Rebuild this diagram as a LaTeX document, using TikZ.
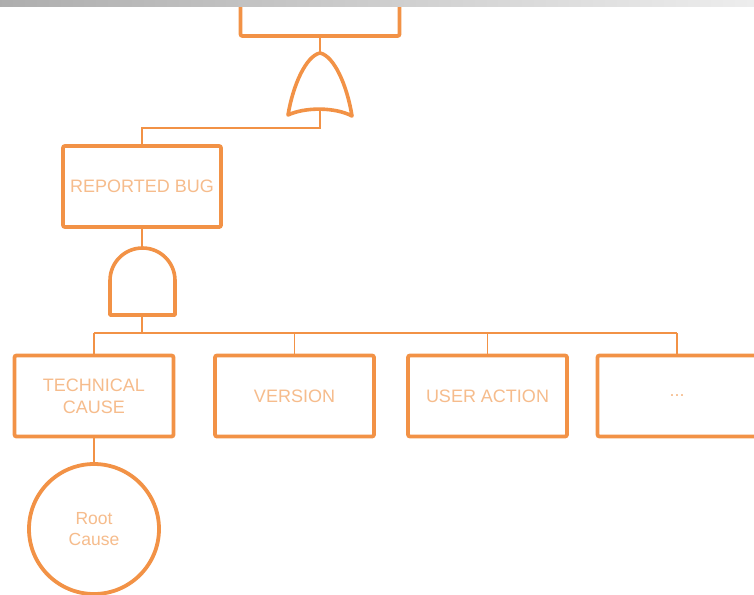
\documentclass[tikz,border=0pt]{standalone}
\usepackage{fontspec}
\setmainfont{Liberation Sans}
\definecolor{ftline}{HTML}{F29246}
\definecolor{fttext}{HTML}{F6BC8C}
\begin{document}
\begin{tikzpicture}[x=1pt,y=-1pt,
  event/.style={draw=ftline, line width=3.8pt, rounded corners=2pt, fill=white,
    minimum width=159pt, minimum height=81pt, inner sep=0pt,
    text=fttext, font=\fontsize{18}{22}\selectfont, align=center},
  basic/.style={draw=ftline, line width=3.8pt, circle, fill=white,
    minimum size=130pt, inner sep=0pt,
    text=fttext, font=\fontsize{17.5}{21}\selectfont, align=center},
  gate/.style={draw=ftline, line width=3.6pt, line join=round, fill=white},
  link/.style={draw=ftline, line width=1.5pt}]
\useasboundingbox (0,0) rectangle (754,594);
\clip (0,0) rectangle (754,594);

% events
\node[event, minimum height=90pt] (top) at (320,-9) {};
\node[event, minimum width=158pt] (bug) at (142,186.5) {REPORTED BUG};
\node[event] (tech) at (94,396) {TECHNICAL\\CAUSE};
\node[event] (ver) at (294.5,396) {VERSION};
\node[event] (act) at (487.5,396) {USER ACTION};
\node[event] (more) at (677,396) {...};
\node[basic] (root) at (94,529) {Root\\Cause};

% gate anchors
\coordinate (orT) at (320,53);
\coordinate (orB) at (320,110);
\coordinate (andT) at (142,248);
\coordinate (andB) at (142,315);
\coordinate (busL) at (94,333);
\coordinate (busR) at (677,333);

% OR gate
\draw[gate] (288,115) .. controls (305,107) and (335,107) .. (352,116)
  .. controls (347,85) and (334,56) .. (orT)
  .. controls (306,56) and (293,85) .. (288,115) -- cycle;

% AND gate
\draw[gate] (110,315) -- (110,280.5) arc[start angle=180, end angle=360, radius=32.5]
  -- (175,315) -- cycle;

% connectors
\draw[link] (top.south) -- (orT);
\draw[link] (orB) -- (320,128) -| (bug.north);
\draw[link] (bug.south) -- (andT);
\draw[link] (andB) -- (142,333);
\draw[link] (busL) -- (busR);
\draw[link] (busL) -- (tech.north);
\draw[link] (ver.north |- busL) -- (ver.north);
\draw[link] (act.north |- busL) -- (act.north);
\draw[link] (busR) -- (more.north);
\draw[link] (tech.south) -- (root.north);

% grey header strip
\shade[left color=black!32, right color=black!7] (0,0) rectangle (754,7);
\end{tikzpicture}
\end{document}
